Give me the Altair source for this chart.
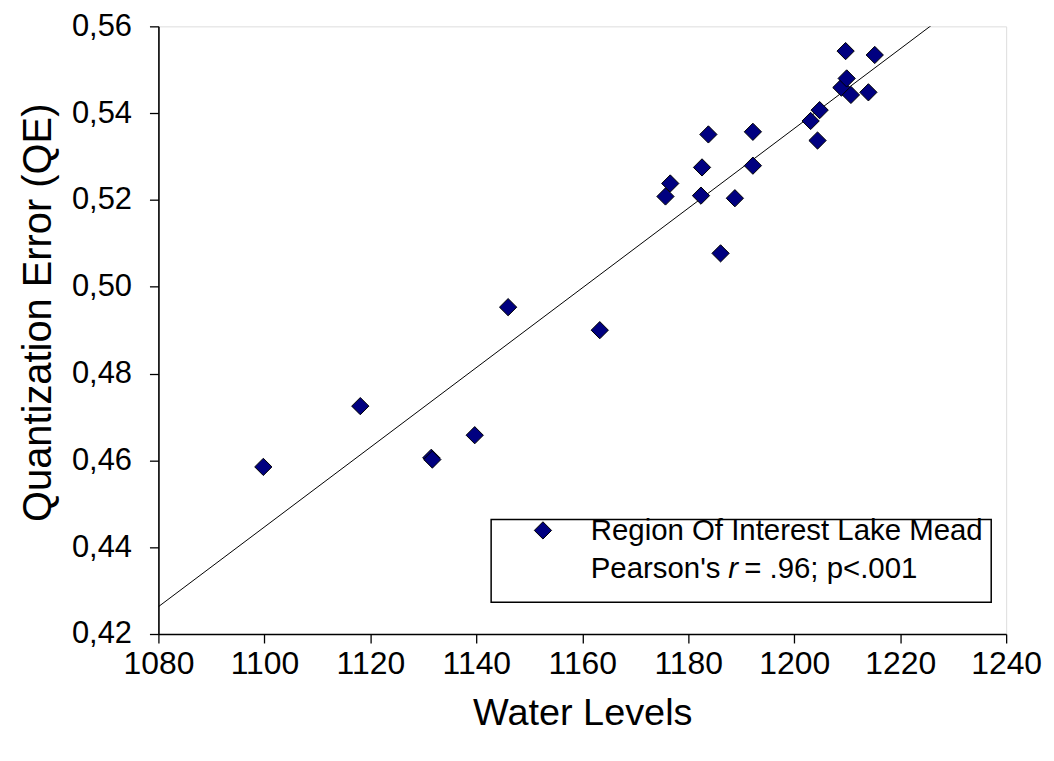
import altair as alt
import pandas as pd

# Data
water_levels = [1099.8, 1118.1, 1131.5, 1131.7, 1139.7, 1146.0, 1163.3, 1175.7,
                1176.6, 1182.4, 1182.6, 1183.8, 1186.1, 1188.8, 1192.2, 1192.2,
                1203.1, 1204.8, 1204.4, 1208.9, 1209.7, 1209.9, 1210.7, 1214.0,
                1215.2]
qe_values = [0.4585, 0.4725, 0.4606, 0.4602, 0.4658, 0.4953, 0.4900, 0.5208,
             0.5238, 0.5210, 0.5275, 0.5351, 0.5077, 0.5204, 0.5357, 0.5279,
             0.5382, 0.5407, 0.5337, 0.5459, 0.5543, 0.5480, 0.5442, 0.5448,
             0.5534]
x_ticks = [1080, 1100, 1120, 1140, 1160, 1180, 1200, 1220, 1240]
y_ticks = [0.42, 0.44, 0.46, 0.48, 0.50, 0.52, 0.54, 0.56]
legend_line1 = ["Region Of Interest Lake Mead"]
legend_line2 = ["Pearson's", "r", "= .96; p<.001"]

FONT = "Liberation Sans"
NAVY = "#000080"
W, H = 851, 610

df = pd.DataFrame({"water": water_levels, "qe": qe_values})

x_scale = alt.Scale(domain=[1080, 1240], nice=False, zero=False)
y_scale = alt.Scale(domain=[0.42, 0.56], nice=False, zero=False)

x_axis = alt.Axis(values=x_ticks, format="d", title="Water Levels", grid=False,
                  labelFontSize=32, labelPadding=6, tickSize=9, tickWidth=1.3,
                  tickColor="black", domainColor="black", domainWidth=1.6,
                  labelColor="black", titleFontSize=38, titleFontWeight="normal",
                  titleColor="black", titleBaseline="alphabetic", titleY=91,
                  titleX=W / 2, titleAlign="center", labelFlush=False)
y_axis = alt.Axis(values=y_ticks,
                  labelExpr="replace(format(datum.value, '.2f'), '.', ',')",
                  title="Quantization Error (QE)", grid=False,
                  labelFontSize=31, labelPadding=18, tickSize=9, tickWidth=1.3,
                  tickColor="black", domainColor="black", domainWidth=1.6,
                  labelColor="black", titleFontSize=40, titleFontWeight="normal",
                  titleColor="black", titleAngle=-90, titleBaseline="alphabetic",
                  titleX=-108, titleY=287, titleAlign="center", labelFlush=False)

base = alt.Chart(df)

points = base.mark_point(shape="diamond", filled=True, fill=NAVY, stroke="black",
                         strokeWidth=1, size=300, opacity=1).encode(
    x=alt.X("water:Q", scale=x_scale, axis=x_axis),
    y=alt.Y("qe:Q", scale=y_scale, axis=y_axis),
)

reg = base.transform_regression("water", "qe", extent=[1080, 1240]).mark_line(
    color="black", strokeWidth=1, clip=True).encode(
    x=alt.X("water:Q", scale=x_scale),
    y=alt.Y("qe:Q", scale=y_scale),
)

one = alt.Data(values=[{"k": 0}])

legend_box = alt.Chart(one).mark_rect(fill="white", stroke="black", strokeWidth=1.5).encode(
    x=alt.value(334), x2=alt.value(836), y=alt.value(495), y2=alt.value(578))

legend_sym = alt.Chart(one).mark_point(shape="diamond", filled=True, fill=NAVY,
                                       stroke="black", strokeWidth=1, size=300,
                                       opacity=1).encode(
    x=alt.value(386), y=alt.value(506))

txt_common = dict(font=FONT, fontSize=29.5, color="black", align="left",
                  baseline="alphabetic")

legend_t1 = alt.Chart(one).mark_text(**txt_common).encode(
    x=alt.value(434), y=alt.value(516), text=alt.value(legend_line1[0]))
legend_t2a = alt.Chart(one).mark_text(**txt_common).encode(
    x=alt.value(434), y=alt.value(554), text=alt.value(legend_line2[0]))
legend_t2b = alt.Chart(one).mark_text(fontStyle="italic", **txt_common).encode(
    x=alt.value(572), y=alt.value(554), text=alt.value(legend_line2[1]))
legend_t2c = alt.Chart(one).mark_text(**txt_common).encode(
    x=alt.value(588), y=alt.value(554), text=alt.value(legend_line2[2]))

chart = alt.layer(reg, points, legend_box, legend_sym, legend_t1, legend_t2a,
                  legend_t2b, legend_t2c).properties(
    width=W, height=H,
    autosize=alt.AutoSizeParams(type="none"),
    padding={"left": 151, "top": 17, "right": 40, "bottom": 110},
).configure_view(stroke="black", strokeWidth=1.6).configure_axis(
    labelFont=FONT, titleFont=FONT).configure(background="white")

chart.save("out.html", embed_options={"renderer": "svg", "actions": False})
